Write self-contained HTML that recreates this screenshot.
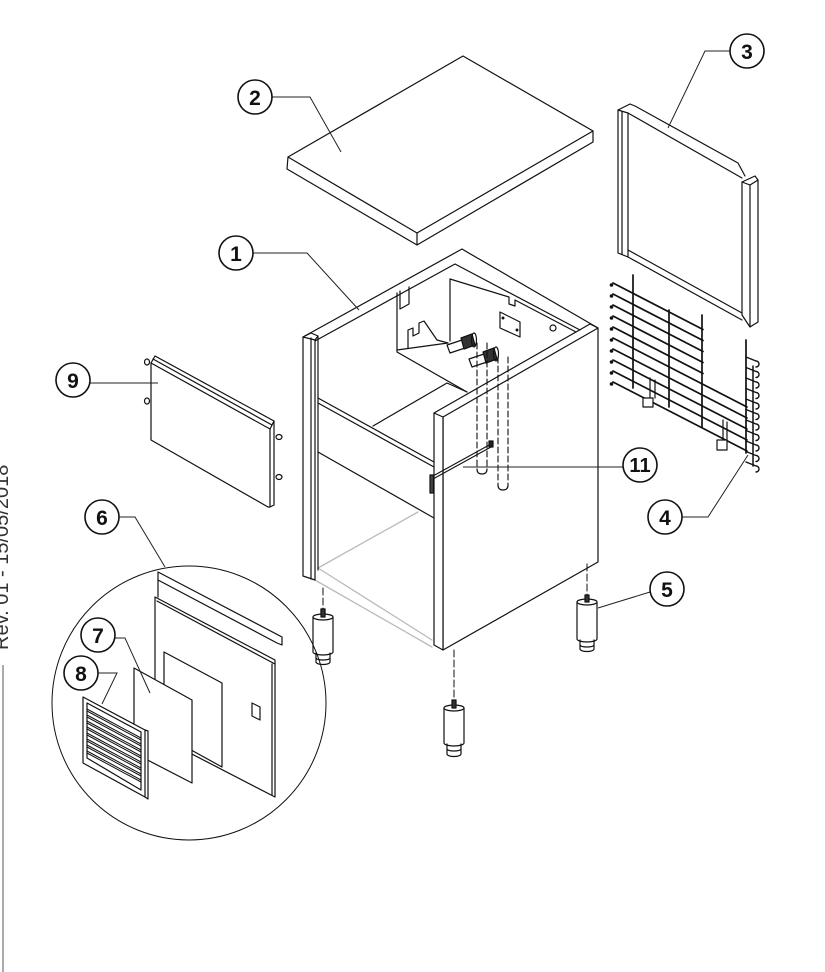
<!DOCTYPE html>
<html><head><meta charset="utf-8">
<style>
html,body{margin:0;padding:0;background:#fff;}
body{width:825px;height:972px;overflow:hidden;}
svg{display:block;}
</style></head>
<body>
<svg width="825" height="972" viewBox="0 0 825 972" xmlns="http://www.w3.org/2000/svg" font-family="Liberation Sans, sans-serif">
<rect width="825" height="972" fill="#fff"/>

<!-- revision text + side line -->
<text transform="translate(8,650) rotate(-90)" font-size="20" fill="#333">Rev. 01 - 15/05/2018</text>
<line x1="3" y1="665" x2="3" y2="972" stroke="#aaa" stroke-width="2"/>

<g fill="none" stroke="#111" stroke-width="1.2" stroke-linejoin="round" stroke-linecap="round">

<!-- PART 2 : top slab -->
<path d="M288,157 L463,56 L593,131 L417,233 Z" fill="#fff"/>
<path d="M288,157 L287,169 L417,245 L593,142 L593,131 M417,233 L417,245"/>

<!-- PART 3 : frame -->
<path d="M618,110 L630,104 L635,106 L738,163 L745,176"/>
<path d="M628,113 L742,178"/>
<path d="M618,110 L628,113 L628,257 L618,253 Z" fill="#fff"/>
<path d="M622,112 L622,254"/>
<path d="M628,250 L742,313 M628,257 L742,320"/>
<path d="M742,182 L755,176 L758,180 L750,185 Z" fill="#fff"/>
<path d="M742,182 L742,315 L750,327 L758,322 L758,180 M750,185 L750,327"/>

<!-- PART 4 : wire grid -->
<g stroke-width="1.7">
<path d="M613,283 L703,329.5 M613,294 L703,340.5 M613,305 L703,351.5 M613,316 L703,362.5 M613,327 L703,373.5 M613,338 L747,407 M613,349 L747,418 M613,360 L747,429 M613,371 L747,440 M613,382 L747,451"/>
<path d="M633,275 L633,388 M669,310 L669,407 M702,315 L702,427 M746,340 L746,453"/>
</g>
<g fill="#111" stroke="none">
<circle cx="611.5" cy="285" r="1.8"/><circle cx="611.5" cy="296" r="1.8"/><circle cx="611.5" cy="307" r="1.8"/><circle cx="611.5" cy="318" r="1.8"/><circle cx="611.5" cy="329" r="1.8"/><circle cx="611.5" cy="340" r="1.8"/><circle cx="611.5" cy="351" r="1.8"/><circle cx="611.5" cy="362" r="1.8"/><circle cx="611.5" cy="373" r="1.8"/><circle cx="611.5" cy="384" r="1.8"/>
</g>
<path d="M753,366 L753,466" stroke-width="1.5"/>
<g stroke-width="1.4">
<path d="M746,357 L756,361 a3,3 0 0 1 0,6 M746,367.5 L756,371.5 a3,3 0 0 1 0,6 M746,378 L756,382 a3,3 0 0 1 0,6 M746,388.5 L756,392.5 a3,3 0 0 1 0,6 M746,399 L756,403 a3,3 0 0 1 0,6 M746,409.5 L756,413.5 a3,3 0 0 1 0,6 M746,420 L756,424 a3,3 0 0 1 0,6 M746,430.5 L756,434.5 a3,3 0 0 1 0,6 M746,441 L756,445 a3,3 0 0 1 0,6 M746,451.5 L756,455.5 a3,3 0 0 1 0,6 M746,462 L756,466 a3,3 0 0 1 0,6"/>
</g>
<path d="M650,378 L650,398 M655,380 L655,398 M643,398 L653,398 L653,407 L643,407 Z" fill="#fff"/>
<path d="M723,420 L723,440 M727,422 L727,440 M717,440 L727,440 L727,450 L717,450 Z" fill="#fff"/>

<!-- PART 1 : cabinet -->
<!-- lower grey bottom frame -->
<g stroke="#bbb" stroke-width="1.3">
<path d="M318,568 L418,512 M318,568 L432,640 M315,580 L432,647"/>
</g>
<!-- top rim -->
<path d="M303,337 L462,249 L467,252 L598,328"/>
<path d="M315,341 L455,264 L580,330"/>
<!-- compartment interior -->
<path d="M397,293 L397,352 L467,392"/>
<path d="M400,291 L400,309 L409,304 L409,287"/>
<path d="M397,350 L448,343"/>
<path d="M408,348 L408,330 L413,328 L413,336 L419,333 L419,323 L424,321 L437,340 L448,343"/>
<path d="M450,279 L450,341"/>
<path d="M450,279 L509,297 L509,304 L515,306 L515,300 L576,332"/>
<path d="M500,312 L520,322 L520,337 L500,328 Z"/>
<circle cx="503" cy="318" r="0.9" fill="#111"/>
<circle cx="517" cy="330" r="0.9" fill="#111"/>
<circle cx="553" cy="328" r="3"/>
<!-- valves -->
<path d="M447,345 L462,340 L465,348 L450,353 Z" fill="#fff"/>
<path d="M461,338 L472,334 L475,345 L464,349 Z" fill="#333"/>
<ellipse cx="474" cy="340" rx="2.5" ry="7"/>
<path d="M469,359 L484,354 L487,362 L472,367 Z" fill="#fff"/>
<path d="M483,352 L494,348 L497,359 L486,363 Z" fill="#333"/>
<ellipse cx="496" cy="354" rx="2.5" ry="7"/>
<!-- crossbar & shelf -->
<path d="M318,398 L434,462 M318,403 L434,467 M318,452 L434,518"/>
<path d="M373,426 L447,383 L467,392"/>
<!-- left post -->
<path d="M303,337 L311,333 L318,336 L315,340 Z" fill="#fff"/>
<path d="M303,337 L303,576 L315,580 L315,340"/>
<path d="M311,338 L311,579 M318,337 L318,570"/>
<!-- right side panel -->
<path d="M443,417 L598,328 L598,562 L443,650 Z" fill="#fff"/>
<path d="M434,413 L443,417 L443,650 L434,645 Z" fill="#fff"/>
<path d="M434,413 L590,324 L598,328"/>
<!-- pipes (dashed) -->
<g stroke-dasharray="6,3" stroke-width="1.1">
<path d="M477,343 L477,469 M487,343 L487,469"/>
<path d="M498,357 L498,485 M508,357 L508,485"/>
</g>
<path d="M477,469 Q477,474 482,474 Q487,474 487,469"/>
<path d="M498,485 Q498,490 503,490 Q508,490 508,485"/>
<!-- rod 11 -->
<path d="M433,476 L491,444 M433,479 L491,447" stroke-width="1.1"/>
<rect x="489" y="441" width="4" height="6" fill="#222"/>
<rect x="430" y="475" width="3.5" height="18" fill="#444"/>

<!-- PART 5 : feet -->
<g stroke-dasharray="7,3" stroke-width="1">
<path d="M323,588 L323,609 M454,650 L454,701 M587,564 L587,596"/>
</g>
<g>
<!-- left -->
<rect x="321" y="609" width="4" height="9" fill="#333"/>
<path d="M313,617 L313,652 A10,3 0 0 0 333,652 L333,617" fill="#fff"/>
<ellipse cx="323" cy="617" rx="10" ry="3" fill="#fff"/>
<rect x="321" y="609" width="4" height="8" fill="#333"/>
<path d="M316,653 L316,662 A7,2.5 0 0 0 330,662 L330,653"/>
<path d="M316,658 A7,2 0 0 0 330,658"/>
<!-- middle -->
<path d="M444,708 L444,743 A10,3 0 0 0 464,743 L464,708" fill="#fff"/>
<ellipse cx="454" cy="708" rx="10" ry="3" fill="#fff"/>
<rect x="452" y="700" width="4" height="8" fill="#333"/>
<path d="M447,744 L447,754 A7,2.5 0 0 0 461,754 L461,744"/>
<path d="M447,749 A7,2 0 0 0 461,749"/>
<!-- right -->
<path d="M577,602 L577,639 A10,3 0 0 0 597,639 L597,602" fill="#fff"/>
<ellipse cx="587" cy="602" rx="10" ry="3" fill="#fff"/>
<rect x="585" y="595" width="4" height="7" fill="#333"/>
<path d="M580,640 L580,649 A7,2.5 0 0 0 594,649 L594,640"/>
<path d="M580,645 A7,2 0 0 0 594,645"/>
</g>

<!-- PART 9 : panel -->
<path d="M151,363 L270,429 L270,507 L268,507 L151,440 Z" fill="#fff"/>
<path d="M151,363 L155,356 L274,421 L270,429"/>
<path d="M153,359 L272,425"/>
<path d="M274,421 L274,505 L270,507"/>
<ellipse cx="147" cy="362" rx="2.5" ry="3"/>
<ellipse cx="147" cy="401" rx="2.5" ry="3"/>
<ellipse cx="279" cy="437" rx="3" ry="2.5"/>
<ellipse cx="279" cy="477" rx="3" ry="2.5"/>

<!-- detail circle -->
<circle cx="189" cy="703" r="137" stroke-width="1"/>
<!-- PART 6 -->
<path d="M155,597 L155,735 L275,797 L275,660 Z" fill="#fff"/>
<path d="M158,572 L282,637 L282,645 L277,643 L158,580 Z" fill="#fff"/>
<path d="M158,580 L158,597 M157,601 L275,664 M272,664 L272,795"/>
<path d="M164,652 L222,683 L222,767 L164,735 Z"/>
<path d="M252,703 L260,707 L260,720 L252,716 Z"/>
<!-- PART 7 -->
<path d="M134,668 L192,700 L192,783 L134,753 Z" fill="#fff"/>
<!-- PART 8 grille -->
<path d="M83,697 L145,730 L148,731 L148,799 L145,797 L83,763 Z" fill="#fff"/>
<path d="M145,730 L145,797"/>
<path d="M87,703 L141,732 L141,790 L87,758 Z"/>
<g stroke-width="1">
<path d="M87,709 L141,738 M87,711 L141,740 M87,715 L141,744 M87,717 L141,746 M87,721 L141,750 M87,723 L141,752 M87,727 L141,756 M87,729 L141,758 M87,733 L141,762 M87,735 L141,764 M87,739 L141,768 M87,741 L141,770 M87,745 L141,774 M87,747 L141,776 M87,751 L141,780 M87,753 L141,782"/>
</g>
</g>

<!-- leaders -->
<g fill="none" stroke="#222" stroke-width="1">
<path d="M253,253 L307,253 L359,310"/>
<path d="M272,97 L310,97 L341,152"/>
<path d="M730,51 L705,51 L668,128"/>
<path d="M682,517 L708,517 L748,455"/>
<path d="M650,592 L598,608"/>
<path d="M119,517 L135,517 L165,567"/>
<path d="M115,638 L125,638 L150,693"/>
<path d="M98,673 L117,673 L102,704"/>
<path d="M90,383 L158,383"/>
<path d="M623,467 L463,467"/>
</g>

<!-- labels -->
<g fill="#fff" stroke="#111" stroke-width="1.6">
<circle cx="236" cy="253" r="17"/>
<circle cx="255" cy="97" r="17"/>
<circle cx="747" cy="51" r="17"/>
<circle cx="665" cy="517" r="17"/>
<circle cx="667" cy="589" r="17"/>
<circle cx="102" cy="517" r="17"/>
<circle cx="98" cy="635" r="17"/>
<circle cx="81" cy="673" r="17"/>
<circle cx="73" cy="380" r="17"/>
<circle cx="640" cy="465" r="17"/>
</g>
<g font-size="21" font-weight="bold" fill="#111" text-anchor="middle">
<text x="236" y="261">1</text>
<text x="255" y="105">2</text>
<text x="747" y="59">3</text>
<text x="665" y="525">4</text>
<text x="667" y="597">5</text>
<text x="102" y="525">6</text>
<text x="98" y="643">7</text>
<text x="81" y="681">8</text>
<text x="73" y="388">9</text>
<text x="640" y="472" font-size="20">11</text>
</g>
</svg>
</body></html>
